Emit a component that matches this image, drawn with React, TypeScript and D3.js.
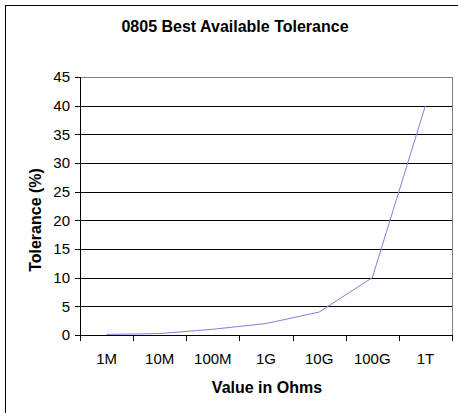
import React from "react";
import * as d3 from "d3";

const categories = ["1M", "10M", "100M", "1G", "10G", "100G", "1T"];
const tolerance = [0.1, 0.25, 1, 2, 4, 10, 40];
const yTicks = [0, 5, 10, 15, 20, 25, 30, 35, 40, 45];

const W = 458;
const H = 413;
const left = 80;
const right = 452;
const top = 77;
const bottom = 335;
const FONT = "'Liberation Sans', Arial, sans-serif";

export default function App() {
  const x = d3.scaleBand<string>().domain(categories).range([left, right]).padding(0);
  const y = d3.scaleLinear().domain([0, 45]).range([bottom, top]);
  const line = d3
    .line<number>()
    .x((_, i) => (x(categories[i]) as number) + x.bandwidth() / 2)
    .y((d) => y(d));
  const boundaries = categories.map((c) => x(c) as number).concat([right]);

  return (
    <svg
      width={W}
      height={H}
      style={{ position: "absolute", left: 0, top: 0, background: "#fff" }}
      fontFamily={FONT}
    >
      <rect x={5.5} y={5.5} width={470} height={430} fill="#fff" stroke="#000" strokeWidth={1} />
      <text x={235} y={32} textAnchor="middle" fontSize={16} fontWeight="bold" fill="#000">
        0805 Best Available Tolerance
      </text>
      {/* plot area border */}
      <rect
        x={left + 0.5}
        y={top + 0.5}
        width={right - left}
        height={bottom - top}
        fill="none"
        stroke="#808080"
        strokeWidth={1}
      />
      {/* gridlines */}
      {yTicks
        .filter((t) => t > 0 && t < 45)
        .map((t) => (
          <line
            key={"g" + t}
            x1={left}
            x2={right}
            y1={Math.round(y(t)) + 0.5}
            y2={Math.round(y(t)) + 0.5}
            stroke="#000"
            strokeWidth={1}
          />
        ))}
      {/* y axis */}
      <line x1={left + 0.5} x2={left + 0.5} y1={top} y2={bottom + 1} stroke="#000" />
      {yTicks.map((t) => (
        <g key={"y" + t}>
          <line
            x1={left - 5}
            x2={left}
            y1={Math.round(y(t)) + 0.5}
            y2={Math.round(y(t)) + 0.5}
            stroke="#000"
          />
          <text
            x={70}
            y={y(t)}
            dy="0.36em"
            textAnchor="end"
            fontSize={15}
            fill="#000"
          >
            {t}
          </text>
        </g>
      ))}
      {/* x axis */}
      <line x1={left} x2={right + 1} y1={bottom + 0.5} y2={bottom + 0.5} stroke="#000" />
      {boundaries.map((b, i) => (
        <line
          key={"xt" + i}
          x1={Math.round(b) + 0.5}
          x2={Math.round(b) + 0.5}
          y1={bottom}
          y2={bottom + 6}
          stroke="#000"
        />
      ))}
      {categories.map((c) => (
        <text
          key={"xl" + c}
          x={(x(c) as number) + x.bandwidth() / 2}
          y={364}
          textAnchor="middle"
          fontSize={15}
          fill="#000"
        >
          {c}
        </text>
      ))}
      {/* data line */}
      <path d={line(tolerance) || ""} fill="none" stroke="#8080dd" strokeWidth={1} />
      {/* axis titles */}
      <text x={267} y={393} textAnchor="middle" fontSize={16} fontWeight="bold" fill="#000">
        Value in Ohms
      </text>
      <text
        transform={`translate(41, 220) rotate(-90)`}
        textAnchor="middle"
        fontSize={16}
        fontWeight="bold"
        fill="#000"
      >
        Tolerance (%)
      </text>
    </svg>
  );
}
